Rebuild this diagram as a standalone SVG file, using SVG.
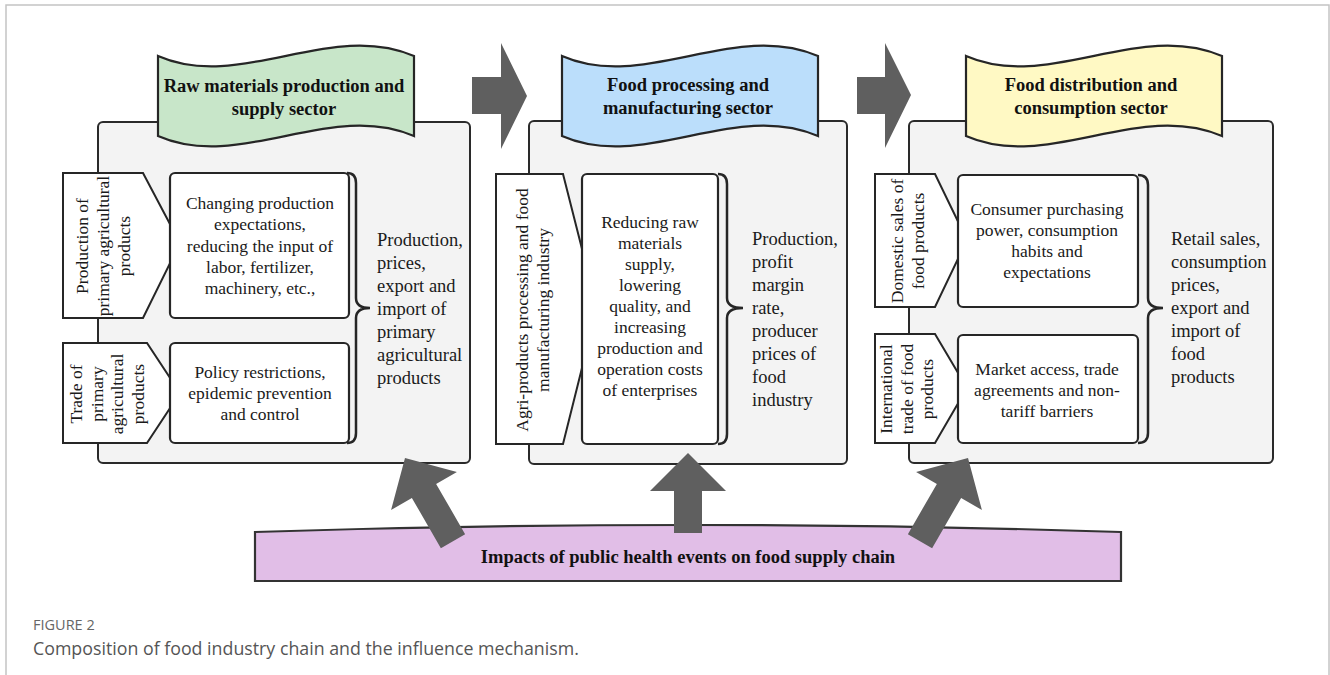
<svg xmlns="http://www.w3.org/2000/svg" width="1330" height="675" viewBox="0 0 1330 675">
<defs>
<style>
.frame{fill:none;stroke:#c4c4c4;stroke-width:1.5}
.panel{fill:#f3f3f3;stroke:#2a2a2a;stroke-width:2}
.box{fill:#fff;stroke:#262626;stroke-width:2.2}
.pent{fill:#fff;stroke:#262626;stroke-width:2}
.brace{fill:none;stroke:#262626;stroke-width:2.5}
.banner{stroke:#262626;stroke-width:2.2}
.arrow{fill:#5f5f5f;stroke:none}
.t{font-family:"Liberation Serif","Times New Roman",serif;font-size:17.5px;fill:#1a1a1a}
.r{font-family:"Liberation Serif","Times New Roman",serif;font-size:18.5px;fill:#1a1a1a}
.h{font-family:"Liberation Serif","Times New Roman",serif;font-size:18.5px;font-weight:bold;fill:#111;text-anchor:middle}
.c{text-anchor:middle}
.cap1{font-family:"Open Sans","Liberation Sans",sans-serif;font-size:14.5px;fill:#666}
.cap2{font-family:"Open Sans","Liberation Sans",sans-serif;font-size:17.8px;fill:#555}
</style>
<path id="tape" d="M0,13 C82,49 172,-23 256,13 L256,93 C172,57 82,129 0,93 Z"/>
<polygon id="uparrow" points="0,0 38,38 14,38 14,80 -14,80 -14,38 -38,38"/>
<polygon id="diagarrow" points="0,0 38,38 14,38 14,96 -14,96 -14,38 -38,38"/>
</defs>

<rect class="frame" x="6" y="5" width="1323" height="690"/>

<g id="panel1">
<rect class="panel" x="98" y="122" width="372" height="341" rx="5"/>
</g>
<g id="panel2">
<rect class="panel" x="529" y="121" width="318" height="343" rx="5"/>
</g>
<g id="panel3">
<rect class="panel" x="909" y="121" width="364" height="342" rx="5"/>
</g>

<g id="banner1">
<use href="#tape" x="158" y="43" class="banner" fill="#c8e6c9"/>
<text class="h" x="284" y="92">Raw materials production and</text>
<text class="h" x="284" y="115">supply sector</text>
</g>
<g id="banner2">
<use href="#tape" x="562" y="43" class="banner" fill="#bbdefb"/>
<text class="h" x="688" y="91">Food processing and</text>
<text class="h" x="688" y="114">manufacturing sector</text>
</g>
<g id="banner3">
<use href="#tape" x="966" y="43" class="banner" fill="#fff9c4"/>
<text class="h" x="1091" y="91">Food distribution and</text>
<text class="h" x="1091" y="114">consumption sector</text>
</g>

<g id="label-production">
<path class="pent" d="M63,173 L143,173 L180,243 L143,318 L63,318 Z"/>
<text class="t c" transform="translate(88,246) rotate(-90)"><tspan x="0" y="0">Production of</tspan><tspan x="0" y="21">primary agricultural</tspan><tspan x="0" y="42">products</tspan></text>
</g>
<g id="box-production">
<rect class="box" x="170" y="173" width="179" height="145" rx="5"/>
<text class="t c"><tspan x="260" y="209">Changing production</tspan><tspan x="260" y="230">expectations,</tspan><tspan x="260" y="252">reducing the input of</tspan><tspan x="260" y="273">labor, fertilizer,</tspan><tspan x="260" y="294">machinery, etc.,</tspan></text>
</g>
<g id="label-trade">
<path class="pent" d="M63,343 L147,343 L180,393 L147,443 L63,443 Z"/>
<text class="t c" transform="translate(82,394) rotate(-90)"><tspan x="0" y="0">Trade of</tspan><tspan x="0" y="20.5">primary</tspan><tspan x="0" y="41">agricultural</tspan><tspan x="0" y="61.5">products</tspan></text>
</g>
<g id="box-trade">
<rect class="box" x="170" y="343" width="179" height="100" rx="5"/>
<text class="t c"><tspan x="260" y="378">Policy restrictions,</tspan><tspan x="260" y="399">epidemic prevention</tspan><tspan x="260" y="420">and control</tspan></text>
</g>
<g id="result1">
<path class="brace" d="M347,173 Q356,173 356,183 L356,298 Q356,308 370,308 Q356,308 356,318 L356,433 Q356,443 347,443"/>
<text class="r"><tspan x="377" y="246">Production,</tspan><tspan x="377" y="269">prices,</tspan><tspan x="377" y="292">export and</tspan><tspan x="377" y="315">import of</tspan><tspan x="377" y="338">primary</tspan><tspan x="377" y="361">agricultural</tspan><tspan x="377" y="384">products</tspan></text>
</g>

<g id="label-processing">
<path class="pent" d="M496,174 L563,174 L597,308 L563,444 L496,444 Z"/>
<text class="t c" transform="translate(528,310) rotate(-90)"><tspan x="0" y="0">Agri-products processing and food</tspan><tspan x="0" y="21">manufacturing industry</tspan></text>
</g>
<g id="box-processing">
<rect class="box" x="582" y="174" width="136" height="270" rx="5"/>
<text class="t c"><tspan x="650" y="228">Reducing raw</tspan><tspan x="650" y="249">materials</tspan><tspan x="650" y="270">supply,</tspan><tspan x="650" y="291">lowering</tspan><tspan x="650" y="312">quality, and</tspan><tspan x="650" y="333">increasing</tspan><tspan x="650" y="354">production and</tspan><tspan x="650" y="375">operation costs</tspan><tspan x="650" y="396">of enterprises</tspan></text>
</g>
<g id="result2">
<path class="brace" d="M718,174 Q727,174 727,184 L727,298 Q727,308 743,308 Q727,308 727,318 L727,434 Q727,444 718,444"/>
<text class="r"><tspan x="752" y="245">Production,</tspan><tspan x="752" y="268">profit</tspan><tspan x="752" y="291">margin</tspan><tspan x="752" y="314">rate,</tspan><tspan x="752" y="337">producer</tspan><tspan x="752" y="360">prices of</tspan><tspan x="752" y="383">food</tspan><tspan x="752" y="406">industry</tspan></text>
</g>

<g id="label-domestic">
<path class="pent" d="M875,174 L935,174 L967,240 L935,307 L875,307 Z"/>
<text class="t c" transform="translate(903,241) rotate(-90)"><tspan x="0" y="0">Domestic sales of</tspan><tspan x="0" y="21">food products</tspan></text>
</g>
<g id="box-domestic">
<rect class="box" x="958" y="175" width="180" height="132" rx="5"/>
<text class="t c"><tspan x="1047" y="215">Consumer purchasing</tspan><tspan x="1047" y="236">power, consumption</tspan><tspan x="1047" y="257">habits and</tspan><tspan x="1047" y="278">expectations</tspan></text>
</g>
<g id="label-international">
<path class="pent" d="M875,334 L935,334 L967,388 L935,443 L875,443 Z"/>
<text class="t c" transform="translate(892,389) rotate(-90)"><tspan x="0" y="0">International</tspan><tspan x="0" y="20.5">trade of food</tspan><tspan x="0" y="41">products</tspan></text>
</g>
<g id="box-international">
<rect class="box" x="958" y="335" width="180" height="108" rx="5"/>
<text class="t c"><tspan x="1047" y="375">Market access, trade</tspan><tspan x="1047" y="396">agreements and non-</tspan><tspan x="1047" y="417">tariff barriers</tspan></text>
</g>
<g id="result3">
<path class="brace" d="M1138,175 Q1148,175 1148,185 L1148,298 Q1148,308 1163,308 Q1148,308 1148,318 L1148,433 Q1148,443 1138,443"/>
<text class="r"><tspan x="1171" y="245">Retail sales,</tspan><tspan x="1171" y="268">consumption</tspan><tspan x="1171" y="291">prices,</tspan><tspan x="1171" y="314">export and</tspan><tspan x="1171" y="337">import of</tspan><tspan x="1171" y="360">food</tspan><tspan x="1171" y="383">products</tspan></text>
</g>

<g id="impacts">
<path d="M255,532 Q688,518 1121,532 L1121,581 L255,581 Z" fill="#e1bee7" stroke="#333" stroke-width="2.2"/>
<text class="h" x="688" y="563">Impacts of public health events on food supply chain</text>
</g>

<g id="connectors">
<polygon class="arrow" points="472,77 501,77 501,43 527,96 501,149 501,114 472,114"/>
<polygon class="arrow" points="857,77 885,77 885,43 911,95 885,148 885,114 857,114"/>
<use href="#diagarrow" class="arrow" transform="translate(405,458) rotate(-30)"/>
<use href="#uparrow" class="arrow" transform="translate(688,453)"/>
<use href="#diagarrow" class="arrow" transform="translate(968,458) rotate(30)"/>
</g>

<g id="caption">
<text class="cap1" x="33" y="630">FIGURE 2</text>
<text class="cap2" x="33" y="655">Composition of food industry chain and the influence mechanism.</text>
</g>
</svg>
